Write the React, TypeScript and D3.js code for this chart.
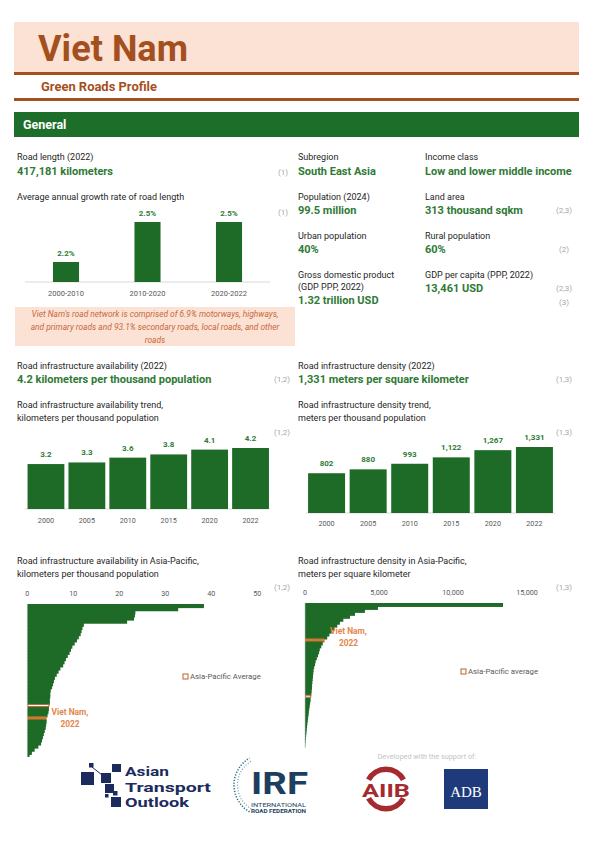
import React from "react";
import * as d3 from "d3";

const W = 596;
const H = 842;
const FONT = "Roboto, 'Noto Sans', sans-serif";

const GREEN = "#1e6b28";
const GREEN_TEXT = "#2f7a35";
const BROWN = "#a4501e";
const PEACH = "#fbe2d5";
const ORANGE_BAR = "#cf7a30";
const ORANGE_TEXT = "#e4874c";
const DARK = "#262626";
const REF = "#a6a6a6";
const TICK = "#595959";

// ---- data ----
const growthPeriods = ["2000-2010", "2010-2020", "2020-2022"];
const growthRates = [2.2, 2.5, 2.5];

const trendYears = ["2000", "2005", "2010", "2015", "2020", "2022"];
const availabilityTrend = [3.2, 3.3, 3.6, 3.8, 4.1, 4.2];
const densityTrend = [802, 880, 993, 1122, 1267, 1331];

const availabilityTicks = [0, 10, 20, 30, 40, 50];
const densityTicks = [0, 5000, 10000, 15000];

// Asia-Pacific ranking (sorted, includes Viet Nam and Asia-Pacific average)
const apAvailability = [
  38.4, 32.8, 23.5, 23.4, 23.2, 21.7, 12.3, 12.0, 11.8, 11.6, 11.2, 10.8, 10.3,
  9.8, 9.5, 9.2, 8.8, 8.4, 8.1, 7.8, 7.2, 6.8, 6.4, 6.0, 5.8, 5.6, 5.4, 5.1, 5.0,
  5.0, 4.9, 4.9, 4.8, 4.7, 4.6, 4.4, 4.2, 4.2, 4.1, 4.0, 3.8, 3.6, 3.4, 3.2, 3.0,
  2.4, 1.6, 1.0, 0.5,
];
const apAvailabilityAverageIndex = 32;
const apAvailabilityVietNamIndex = 36;

const apDensity = [
  13380, 4930, 4050, 3380, 3040, 2590, 2360, 2180, 2030, 1800, 1650, 1500, 1331,
  1200, 1100, 1000, 950, 880, 800, 720, 680, 620, 580, 560, 540, 520, 500, 480,
  470, 450, 430, 420, 380, 350, 320, 290, 260, 240, 210, 190, 160, 140, 120, 100,
  80, 60, 40, 25, 10,
];
const apDensityAverageIndex = 31;
const apDensityVietNamIndex = 12;

const generalLeft = [
  { label: "Road length (2022)", value: "417,181 kilometers", ref: "(1)" },
];
const noteLines = [
  "Viet Nam's road network is comprised of 6.9% motorways, highways,",
  "and primary roads and 93.1% secondary roads, local roads, and other",
  "roads",
];

const fmtComma = d3.format(",");

function T(props: any) {
  const { children, ...rest } = props;
  return (
    <text fontFamily={FONT} {...rest}>
      {children}
    </text>
  );
}

function Label({ x, y, children, anchor = "start" }: any) {
  return (
    <T x={x} y={y} fontSize={9} fill={DARK} textAnchor={anchor}>
      {children}
    </T>
  );
}
function Value({ x, y, children }: any) {
  return (
    <T x={x} y={y} fontSize={11} fontWeight={700} fill={GREEN_TEXT}>
      {children}
    </T>
  );
}
function Ref({ x, y, children }: any) {
  return (
    <T x={x} y={y} fontSize={8} fill={REF} textAnchor="end">
      {children}
    </T>
  );
}

export default function App() {
  // growth chart
  const gx = d3
    .scaleBand<string>()
    .domain(growthPeriods)
    .range([25, 270])
    .paddingInner(0.68)
    .paddingOuter(0.343);
  const gy = d3.scaleLinear().domain([2.05, 2.5]).range([282, 222]);

  // trend charts
  const ax = d3
    .scaleBand<string>()
    .domain(trendYears)
    .range([25.5, 271])
    .paddingInner(0.1)
    .paddingOuter(0.05);
  const ay = d3.scaleLinear().domain([0.4, 4.2]).range([509, 448]);

  const dx = d3
    .scaleBand<string>()
    .domain(trendYears)
    .range([306, 555])
    .paddingInner(0.11)
    .paddingOuter(0.05);
  const dy = d3.scaleLinear().domain([0, 1331]).range([513, 447]);

  // Asia-Pacific charts
  const lx = d3.scaleLinear().domain([0, 50]).range([27.3, 257.3]);
  const ly = d3
    .scaleBand<number>()
    .domain(d3.range(apAvailability.length))
    .range([604, 757])
    .padding(0);
  const rx = d3.scaleLinear().domain([0, 15000]).range([305, 527]);
  const ry = d3
    .scaleBand<number>()
    .domain(d3.range(apDensity.length))
    .range([603, 748])
    .padding(0);

  const irfArc = (r: number) => {
    const p = d3.path();
    p.arc(265, 785, r, (120 * Math.PI) / 180, (240 * Math.PI) / 180);
    return p.toString();
  };
  const aiibArc = (a0: number, a1: number) =>
    d3.arc()({
      innerRadius: 17,
      outerRadius: 22.5,
      startAngle: (a0 * Math.PI) / 180,
      endAngle: (a1 * Math.PI) / 180,
    } as any) as string;

  return (
    <div style={{ position: "absolute", left: 0, top: 0 }}>
      <svg width={W} height={H} viewBox={`0 0 ${W} ${H}`} style={{ display: "block" }}>
        <rect x={0} y={0} width={W} height={H} fill="#ffffff" />

        {/* Header */}
        <rect x={14} y={22} width={565} height={50} fill={PEACH} />
        <T x={38} y={61} fontSize={37} fontWeight={700} fill={BROWN} textLength={150} lengthAdjust="spacingAndGlyphs">
          Viet Nam
        </T>
        <rect x={14} y={72} width={565} height={3} fill={BROWN} />
        <T x={41} y={90.5} fontSize={12} fontWeight={700} fill={BROWN} textLength={116} lengthAdjust="spacingAndGlyphs">
          Green Roads Profile
        </T>
        <rect x={14} y={98} width={565} height={3} fill={BROWN} />

        <rect x={14} y={112} width={565} height={25} fill="#1d6e29" />
        <T x={23} y={129} fontSize={12.5} fontWeight={700} fill="#ffffff">
          General
        </T>

        {/* General left column */}
        {generalLeft.map((d) => (
          <g key={d.label}>
            <Label x={17} y={160}>{d.label}</Label>
            <Value x={17} y={175}>{d.value}</Value>
            <Ref x={288} y={175}>{d.ref}</Ref>
          </g>
        ))}
        <Label x={17} y={200}>Average annual growth rate of road length</Label>
        <Ref x={288} y={215}>(1)</Ref>

        <line x1={25} x2={270} y1={282} y2={282} stroke="#d9d9d9" strokeWidth={1} />
        {growthPeriods.map((p, i) => (
          <g key={p}>
            <rect
              x={gx(p)!}
              y={gy(growthRates[i])}
              width={gx.bandwidth()}
              height={282 - gy(growthRates[i])}
              fill={GREEN}
            />
            <T
              x={gx(p)! + gx.bandwidth() / 2}
              y={gy(growthRates[i]) - 6.5}
              fontSize={8}
              fontWeight={700}
              fill={GREEN_TEXT}
              textAnchor="middle"
            >
              {growthRates[i].toFixed(1)}%
            </T>
            <T x={gx(p)! + gx.bandwidth() / 2} y={296} fontSize={7.5} fill={TICK} textAnchor="middle">
              {p}
            </T>
          </g>
        ))}

        <rect x={15} y={307} width={280} height={39} fill={PEACH} />
        {noteLines.map((l, i) => (
          <T
            key={i}
            x={155}
            y={317 + i * 13}
            fontSize={8.4}
            fontStyle="italic"
            fill="#c8693a"
            textAnchor="middle"
          >
            {l}
          </T>
        ))}

        {/* General right column */}
        <Label x={298} y={160}>Subregion</Label>
        <Value x={298} y={174.5}>South East Asia</Value>
        <Label x={425} y={160}>Income class</Label>
        <Value x={425} y={174.5}>Low and lower middle income</Value>

        <Label x={298} y={200}>Population (2024)</Label>
        <Value x={298} y={213.5}>99.5 million</Value>
        <Label x={425} y={200}>Land area</Label>
        <Value x={425} y={213.5}>313  thousand sqkm</Value>
        <Ref x={572} y={213}>(2,3)</Ref>

        <Label x={298} y={239}>Urban population</Label>
        <Value x={298} y={252.5}>40%</Value>
        <Label x={425} y={239}>Rural population</Label>
        <Value x={425} y={252.5}>60%</Value>
        <Ref x={569} y={252}>(2)</Ref>

        <Label x={298} y={278}>Gross domestic product</Label>
        <Label x={298} y={290}>(GDP PPP, 2022)</Label>
        <Value x={298} y={304}>1.32 trillion USD</Value>
        <Label x={425} y={278}>GDP per capita (PPP, 2022)</Label>
        <Value x={425} y={291.5}>13,461  USD</Value>
        <Ref x={572} y={291}>(2,3)</Ref>
        <Ref x={569} y={305}>(3)</Ref>

        {/* Middle section left */}
        <Label x={17} y={369}>Road infrastructure availability (2022)</Label>
        <Value x={17} y={383}>4.2 kilometers per thousand population</Value>
        <Ref x={290} y={382}>(1,2)</Ref>
        <Label x={17} y={408}>Road infrastructure availability trend,</Label>
        <Label x={17} y={421}>kilometers per thousand population</Label>
        <Ref x={290} y={435}>(1,2)</Ref>

        <line x1={25} x2={270} y1={509} y2={509} stroke="#d9d9d9" strokeWidth={1} />
        {trendYears.map((yr, i) => (
          <g key={"a" + yr}>
            <rect x={ax(yr)!} y={ay(availabilityTrend[i])} width={ax.bandwidth()} height={509 - ay(availabilityTrend[i])} fill={GREEN} />
            <T x={ax(yr)! + ax.bandwidth() / 2} y={ay(availabilityTrend[i]) - 7} fontSize={8} fontWeight={700} fill={GREEN_TEXT} textAnchor="middle">
              {availabilityTrend[i].toFixed(1)}
            </T>
            <T x={ax(yr)! + ax.bandwidth() / 2} y={523} fontSize={7.2} fill={TICK} textAnchor="middle">
              {yr}
            </T>
          </g>
        ))}

        {/* Middle section right */}
        <Label x={298} y={369}>Road infrastructure density (2022)</Label>
        <Value x={298} y={383}>1,331 meters per square kilometer</Value>
        <Ref x={572} y={382}>(1,3)</Ref>
        <Label x={298} y={408}>Road infrastructure density trend,</Label>
        <Label x={298} y={421}>meters per thousand population</Label>
        <Ref x={572} y={435}>(1,3)</Ref>

        <line x1={306} x2={555} y1={513} y2={513} stroke="#d9d9d9" strokeWidth={1} />
        {trendYears.map((yr, i) => (
          <g key={"d" + yr}>
            <rect x={dx(yr)!} y={dy(densityTrend[i])} width={dx.bandwidth()} height={513 - dy(densityTrend[i])} fill={GREEN} />
            <T x={dx(yr)! + dx.bandwidth() / 2} y={dy(densityTrend[i]) - 7} fontSize={8} fontWeight={700} fill={GREEN_TEXT} textAnchor="middle">
              {fmtComma(densityTrend[i])}
            </T>
            <T x={dx(yr)! + dx.bandwidth() / 2} y={526} fontSize={7.2} fill={TICK} textAnchor="middle">
              {yr}
            </T>
          </g>
        ))}

        {/* Bottom left: availability in Asia-Pacific */}
        <Label x={17} y={564}>Road infrastructure availability in Asia-Pacific,</Label>
        <Label x={17} y={577}>kilometers per thousand population</Label>
        <Ref x={290} y={590}>(1,2)</Ref>
        {availabilityTicks.map((t) => (
          <T key={"lt" + t} x={lx(t)} y={596} fontSize={7.2} fill={TICK} textAnchor="middle">
            {t}
          </T>
        ))}
        {apAvailability.map((v, i) => {
          const isAvg = i === apAvailabilityAverageIndex;
          const isVN = i === apAvailabilityVietNamIndex;
          const y = ly(i)!;
          const h = ly.bandwidth();
          if (isAvg)
            return (
              <rect key={"la" + i} x={lx(0) + 0.5} y={y + 0.5} width={lx(v) - lx(0) - 1} height={h - 1} fill="#ffffff" stroke="#b8652c" strokeWidth={1} />
            );
          const last = i === apAvailability.length - 1;
          return (
            <rect key={"la" + i} x={lx(0)} y={y} width={lx(v) - lx(0)} height={last ? h : h + 1} fill={isVN ? ORANGE_BAR : GREEN} />
          );
        })}
        <line x1={lx(0)} x2={lx(0)} y1={604} y2={757} stroke="#bfbfbf" strokeWidth={0.6} />
        <T x={70} y={715} fontSize={8.4} fontWeight={700} fill={ORANGE_TEXT} textAnchor="middle">Viet Nam,</T>
        <T x={70} y={726.5} fontSize={8.4} fontWeight={700} fill={ORANGE_TEXT} textAnchor="middle">2022</T>
        <rect x={183} y={674} width={5} height={5} fill="#ffffff" stroke="#b8652c" strokeWidth={1} />
        <T x={190} y={678.5} fontSize={7.8} fill={TICK}>Asia-Pacific Average</T>

        {/* Bottom right: density in Asia-Pacific */}
        <Label x={298} y={564}>Road infrastructure density in Asia-Pacific,</Label>
        <Label x={298} y={577}>meters per square kilometer</Label>
        <Ref x={572} y={590}>(1,3)</Ref>
        {densityTicks.map((t) => (
          <T key={"rt" + t} x={rx(t)} y={595} fontSize={7.2} fill={TICK} textAnchor="middle">
            {fmtComma(t)}
          </T>
        ))}
        {apDensity.map((v, i) => {
          const isAvg = i === apDensityAverageIndex;
          const isVN = i === apDensityVietNamIndex;
          const y = ry(i)!;
          const h = ry.bandwidth();
          if (isAvg)
            return (
              <rect key={"ra" + i} x={rx(0) + 0.5} y={y + 0.5} width={rx(v) - rx(0) - 1} height={h - 1} fill="#ffffff" stroke="#b8652c" strokeWidth={1} />
            );
          const last = i === apDensity.length - 1;
          return (
            <rect key={"ra" + i} x={rx(0)} y={y} width={rx(v) - rx(0)} height={last ? h : h + 1} fill={isVN ? ORANGE_BAR : GREEN} />
          );
        })}
        <line x1={rx(0)} x2={rx(0)} y1={603} y2={748} stroke="#bfbfbf" strokeWidth={0.6} />
        <T x={348.5} y={634} fontSize={8.4} fontWeight={700} fill={ORANGE_TEXT} textAnchor="middle">Viet Nam,</T>
        <T x={348.5} y={645.5} fontSize={8.4} fontWeight={700} fill={ORANGE_TEXT} textAnchor="middle">2022</T>
        <rect x={461} y={669} width={5} height={5} fill="#ffffff" stroke="#b8652c" strokeWidth={1} />
        <T x={468} y={674} fontSize={7.8} fill={TICK}>Asia-Pacific average</T>

        {/* Footer logos */}
        <T x={427} y={759} fontSize={7.3} fill="#c4c4c4" textAnchor="middle">Developed with the support of:</T>

        {/* Asian Transport Outlook */}
        <g fill="#1b2b5e">
          <rect x={81} y={772} width={13} height={13} />
          <rect x={89} y={763} width={4.5} height={4.5} />
          <line x1={92} y1={767} x2={102} y2={775} stroke="#1b2b5e" strokeWidth={1} />
          <rect x={101} y={773} width={10} height={10} />
          <rect x={112} y={764} width={9} height={8} />
          <rect x={105} y={784} width={9} height={9} />
          <rect x={113} y={791} width={4.5} height={4.5} />
          <rect x={105} y={794} width={3.5} height={3.5} />
          <rect x={111} y={797} width={10} height={10} />
        </g>
        <T x={125} y={776} fontSize={13} fontWeight={700} fill="#1b2b5e" textLength={44} lengthAdjust="spacingAndGlyphs">Asian</T>
        <T x={125} y={791.5} fontSize={13} fontWeight={700} fill="#1b2b5e" textLength={86} lengthAdjust="spacingAndGlyphs">Transport</T>
        <T x={125} y={807} fontSize={13} fontWeight={700} fill="#1b2b5e" textLength={64} lengthAdjust="spacingAndGlyphs">Outlook</T>

        {/* IRF */}
        <path d={irfArc(31)} fill="none" stroke="#2b6f8c" strokeWidth={1.6} strokeDasharray="1.2 1.6" />
        <path d={irfArc(27.5)} fill="none" stroke="#2b6f8c" strokeWidth={1.2} strokeDasharray="1 1.8" opacity={0.7} />
        <T x={251} y={794} fontSize={31} fontWeight={700} fill="#1c3f5f" textLength={57} lengthAdjust="spacingAndGlyphs">IRF</T>
        <T x={251} y={806.5} fontSize={5.5} fill="#1c3f5f" textLength={55} lengthAdjust="spacingAndGlyphs">INTERNATIONAL</T>
        <T x={251} y={813} fontSize={5} fontWeight={700} fill="#1c3f5f" textLength={55} lengthAdjust="spacingAndGlyphs">ROAD FEDERATION</T>

        {/* AIIB */}
        <g transform="translate(386,789)">
          <path d={aiibArc(-62, 62)} fill="#a52a30" />
          <path d={aiibArc(118, 242)} fill="#a52a30" />
        </g>
        <T x={386} y={796.5} fontSize={19} fontWeight={700} fill="#a52a30" textAnchor="middle" textLength={48} lengthAdjust="spacingAndGlyphs">AIIB</T>

        {/* ADB */}
        <rect x={444} y={769} width={44} height={40} fill="#1f3a7a" />
        <text x={466} y={797} fontFamily="'Liberation Serif', 'DejaVu Serif', serif" fontSize={15} fill="#ffffff" textAnchor="middle">ADB</text>
      </svg>
    </div>
  );
}
